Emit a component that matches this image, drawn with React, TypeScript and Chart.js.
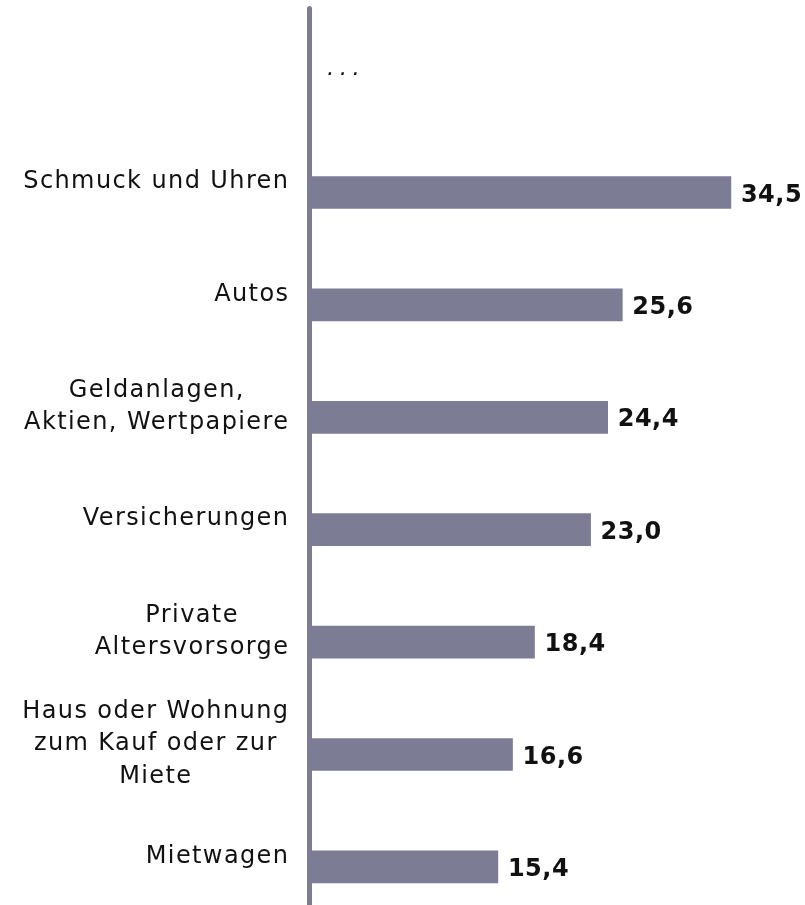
import React, { useEffect, useRef } from 'react';
import { Chart, registerables } from 'chart.js';

Chart.register(...registerables);

const categories: string[][] = [
  ['...'],
  ['Schmuck und Uhren'],
  ['Autos'],
  ['Geldanlagen,', 'Aktien, Wertpapiere'],
  ['Versicherungen'],
  ['Private', 'Altersvorsorge'],
  ['Haus oder Wohnung', 'zum Kauf oder zur', 'Miete'],
  ['Mietwagen'],
];
const values: (number | null)[] = [null, 34.5, 25.6, 24.4, 23.0, 18.4, 16.6, 15.4];
const valueLabels: string[] = ['', '34,5', '25,6', '24,4', '23,0', '18,4', '16,6', '15,4'];

const BAR_COLOR = '#7c7c94';
const TEXT_COLOR = '#111111';

const labelsPlugin = {
  id: 'customLabels',
  afterDatasetsDraw(chart: any) {
    const ctx: CanvasRenderingContext2D = chart.ctx;
    const xScale = chart.scales.x;
    const yScale = chart.scales.y;
    const x0 = xScale.getPixelForValue(0);
    ctx.save();
    // axis line
    ctx.strokeStyle = BAR_COLOR;
    ctx.lineWidth = 5;
    ctx.lineCap = 'round';
    ctx.beginPath();
    ctx.moveTo(x0 - 0.5, 8.5);
    ctx.lineTo(x0 - 0.5, chart.height + 10);
    ctx.stroke();

    // category labels
    ctx.fillStyle = TEXT_COLOR;
    ctx.textBaseline = 'alphabetic';
    categories.forEach((lines, i) => {
      const cy = yScale.getPixelForValue(i);
      if (values[i] == null) {
        ctx.font = 'italic 23px "DejaVu Sans"';
        (ctx as any).letterSpacing = '5.5px';
        ctx.textAlign = 'left';
        ctx.fillText(lines[0], x0 + 17, cy - 5);
        return;
      }
      ctx.font = '24px "DejaVu Sans"';
      const ls = 1.4;
      (ctx as any).letterSpacing = ls + 'px';
      ctx.textAlign = 'center';
      const widths = lines.map((l) => ctx.measureText(l).width);
      const maxW = Math.max(...widths);
      const right = x0 - 22 + ls;
      const cx = right - maxW / 2;
      const blockCenter = cy - 13;
      const lh = 32.5;
      lines.forEach((l, j) => {
        const ly = blockCenter + (j - (lines.length - 1) / 2) * lh;
        ctx.fillText(l, cx, ly + 8.7);
      });
    });

    // value labels
    const meta = chart.getDatasetMeta(0);
    ctx.font = 'bold 24px "DejaVu Sans"';
    (ctx as any).letterSpacing = '0.5px';
    ctx.textAlign = 'left';
    meta.data.forEach((bar: any, i: number) => {
      if (values[i] == null) return;
      ctx.fillText(valueLabels[i], bar.x + 10, bar.y + 9);
    });
    ctx.restore();
  },
};

export default function App() {
  const canvasRef = useRef<HTMLCanvasElement | null>(null);

  useEffect(() => {
    if (!canvasRef.current) return;
    const chart = new Chart(canvasRef.current, {
      type: 'bar',
      data: {
        labels: categories.map((c) => c.join(' ')),
        datasets: [
          {
            data: values as any,
            backgroundColor: BAR_COLOR,
            borderWidth: 0,
            barThickness: 32,
          },
        ],
      },
      options: {
        indexAxis: 'y',
        responsive: false,
        animation: false,
        maintainAspectRatio: false,
        layout: { padding: { left: 310, right: 7, top: 23.9, bottom: 6.9 } },
        plugins: {
          legend: { display: false },
          tooltip: { enabled: false },
          title: { display: false },
        },
        scales: {
          x: { display: false, min: 0, max: 40 },
          y: { display: false },
        },
      },
      plugins: [labelsPlugin],
    });
    return () => chart.destroy();
  }, []);

  return (
    <div
      style={{
        position: 'fixed',
        top: 0,
        left: 0,
        width: 805,
        height: 905,
        overflow: 'hidden',
        background: '#ffffff',
      }}
    >
      <canvas ref={canvasRef} width={805} height={930} style={{ display: 'block', width: 805, height: 930 }} />
    </div>
  );
}
